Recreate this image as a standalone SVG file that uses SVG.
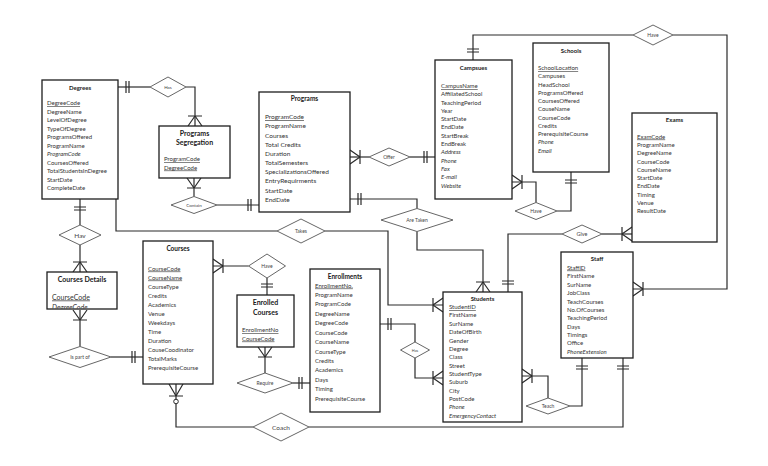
<svg xmlns="http://www.w3.org/2000/svg" width="768" height="466" viewBox="0 0 768 466">
<style>
.box{fill:#fff;stroke:#1e1e1e;stroke-width:1.3}
.dia{fill:#fff;stroke:#555;stroke-width:0.9}
.ln{fill:none;stroke:#2a2a2a;stroke-width:1.2}
.mk{fill:none;stroke:#2a2a2a;stroke-width:1.2}
text{font-family:Lato,"Liberation Sans",Arial,sans-serif;fill:#333}
.t{font-weight:bold;text-anchor:middle;fill:#1a1a1a}
.a{font-size:6px}
.pk{text-decoration:underline}
.i{font-style:italic}
.dl{text-anchor:middle;fill:#444}
</style>
<defs>
<marker id="many" markerUnits="userSpaceOnUse" markerWidth="30" markerHeight="30" viewBox="-20 -15 30 30" refX="0" refY="0" orient="auto" overflow="visible">
<path class="mk" d="M-10,0 L0,-7 M-10,0 L0,7 M-10,-7 L-10,7"/>
</marker>
<marker id="one" markerUnits="userSpaceOnUse" markerWidth="30" markerHeight="30" viewBox="-20 -15 30 30" refX="0" refY="0" orient="auto" overflow="visible">
<path class="mk" d="M-8,-6 L-8,6 M-11,-6 L-11,6"/>
</marker>
<marker id="zmany" markerUnits="userSpaceOnUse" markerWidth="30" markerHeight="30" viewBox="-25 -15 30 30" refX="0" refY="0" orient="auto" overflow="visible">
<path class="mk" d="M-12,0 L0,-7 M-12,0 L0,7 M-12,-7 L-12,7"/>
<circle cx="-17.5" cy="0" r="2.3" fill="#fff" stroke="#2a2a2a" stroke-width="1"/>
</marker>
<clipPath id="cdclip"><rect x="40" y="268" width="85" height="40.5"/></clipPath>
</defs>

<g id="connectors">
<path class="ln" d="M150,87 L118,87" marker-end="url(#one)"/>
<path class="ln" d="M186,87 L195,87 L195,126" marker-end="url(#many)"/>
<path class="ln" d="M194,196.5 L194,178" marker-end="url(#many)"/>
<path class="ln" d="M217,205 L259,205" marker-end="url(#one)"/>
<path class="ln" d="M369,157 L350,157" marker-end="url(#many)"/>
<path class="ln" d="M410,157 L435,157" marker-end="url(#one)"/>
<path class="ln" d="M417,208.5 L417,199 L350,199" marker-end="url(#one)"/>
<path class="ln" d="M417,231.5 L417,250 L483,250 L483,292" marker-end="url(#many)"/>
<path class="ln" d="M277,231 L116,231 L116,199"/>
<path class="ln" d="M325,231 L388,231 L388,305 L443,305" marker-end="url(#many)"/>
<path class="ln" d="M80,225 L80,199" marker-end="url(#one)"/>
<path class="ln" d="M80,245 L80,272" marker-end="url(#many)"/>
<path class="ln" d="M80,346.5 L80,310" marker-end="url(#many)"/>
<path class="ln" d="M111,357 L143,357" marker-end="url(#one)"/>
<path class="ln" d="M248.5,266 L213,266" marker-end="url(#many)"/>
<path class="ln" d="M267,278 L267,295" marker-end="url(#one)"/>
<path class="ln" d="M265,373 L265,347" marker-end="url(#many)"/>
<path class="ln" d="M293,383 L310,383" marker-end="url(#one)"/>
<path class="ln" d="M415,342 L415,324 L380,324" marker-end="url(#one)"/>
<path class="ln" d="M415,358 L415,378 L443,378" marker-end="url(#many)"/>
<path class="ln" d="M548,398 L548,376 L522,376" marker-end="url(#many)"/>
<path class="ln" d="M570,406 L582,406 L582,358" marker-end="url(#one)"/>
<path class="ln" d="M253,427 L176,427 L176,384" marker-end="url(#zmany)"/>
<path class="ln" d="M309,427 L623,427 L623,358" marker-end="url(#one)"/>
<path class="ln" d="M562,234 L508,234 L508,292" marker-end="url(#one)"/>
<path class="ln" d="M602,234 L632,234" marker-end="url(#many)"/>
<path class="ln" d="M536,202.5 L536,182 L512,182" marker-end="url(#many)"/>
<path class="ln" d="M557,211 L571,211 L571,172" marker-end="url(#one)"/>
<path class="ln" d="M633,35 L473,35 L473,60" marker-end="url(#one)"/>
<path class="ln" d="M673,35 L727,35 L727,289 L633,289" marker-end="url(#many)"/>
</g>

<g id="rel-has1"><polygon class="dia" points="150,87 168,77 186,87 168,97"/><text class="dl" x="168" y="89" font-size="4.5">Has</text></g>
<g id="rel-contain"><polygon class="dia" points="171,205 194,196.5 217,205 194,213.5"/><text class="dl" x="194" y="207" font-size="4.5">Contain</text></g>
<g id="rel-offer"><polygon class="dia" points="369,157 389,148 410,157 389,166"/><text class="dl" x="389" y="159" font-size="5">Offer</text></g>
<g id="rel-aretaken"><polygon class="dia" points="381,220 417,208.5 453,220 417,231.5"/><text class="dl" x="417" y="222" font-size="5">Are Taken</text></g>
<g id="rel-takes"><polygon class="dia" points="277,231 301,219 325,231 301,243"/><text class="dl" x="301" y="233" font-size="5">Takes</text></g>
<g id="rel-hav"><polygon class="dia" points="59,235 80,225 101,235 80,245"/><text class="dl" x="80" y="237.5" font-size="6.5">Hav</text></g>
<g id="rel-ispartof"><polygon class="dia" points="49,357 80,346.5 111,357 80,367.5"/><text class="dl" x="80" y="359" font-size="5">Is part of</text></g>
<g id="rel-have1"><polygon class="dia" points="248.5,266 267,254 285.5,266 267,278"/><text class="dl" x="267" y="268" font-size="5">Have</text></g>
<g id="rel-require"><polygon class="dia" points="237,383 265,373 293,383 265,393"/><text class="dl" x="265" y="385" font-size="5">Require</text></g>
<g id="rel-has2"><polygon class="dia" points="400.5,350 415,342 429.5,350 415,358"/><text class="dl" x="415" y="351.5" font-size="3.8">Has</text></g>
<g id="rel-teach"><polygon class="dia" points="526,406 548,398 570,406 548,414"/><text class="dl" x="548" y="408" font-size="5">Teach</text></g>
<g id="rel-coach"><polygon class="dia" points="253,427 281,413 309,427 281,441"/><text class="dl" x="281" y="429.5" font-size="6.5">Coach</text></g>
<g id="rel-give"><polygon class="dia" points="562,234 582,225 602,234 582,243"/><text class="dl" x="582" y="236" font-size="5.5">Give</text></g>
<g id="rel-have2"><polygon class="dia" points="515,211 536,202.5 557,211 536,219.5"/><text class="dl" x="536" y="213" font-size="5">Have</text></g>
<g id="rel-have3"><polygon class="dia" points="633,35 653,25 673,35 653,45"/><text class="dl" x="653" y="37" font-size="5">Have</text></g>

<g id="degrees">
<rect class="box" x="42" y="80" width="76" height="119"/>
<text class="t" x="80" y="90" font-size="6">Degrees</text>
<g class="a">
<text class="pk" x="47" y="105">DegreeCode</text>
<text x="47" y="113.5">DegreeName</text>
<text x="47" y="122">LevelOfDegree</text>
<text x="47" y="130.5">TypeOfDegree</text>
<text x="47" y="139">ProgramsOffered</text>
<text x="47" y="147.5">ProgramName</text>
<text class="i" x="47" y="156">ProgramCode</text>
<text x="47" y="164.5">CoursesOffered</text>
<text x="47" y="173">TotalStudentsInDegree</text>
<text x="47" y="181.5">StartDate</text>
<text x="47" y="190">CompleteDate</text>
</g>
</g>

<g id="programs-segregation">
<rect class="box" x="159" y="126" width="71" height="52"/>
<text class="t" x="194.5" y="135.5" font-size="7">Programs</text>
<text class="t" x="194.5" y="144.5" font-size="7">Segregation</text>
<g class="a">
<text class="pk" x="164" y="161">ProgramCode</text>
<text class="pk" x="164" y="169.5">DegreeCode</text>
</g>
</g>

<g id="programs">
<rect class="box" x="259" y="92" width="91" height="120"/>
<text class="t" x="304.5" y="101" font-size="6.5">Programs</text>
<g font-size="6.5">
<text class="pk" x="265" y="119">ProgramCode</text>
<text x="265" y="128">ProgramName</text>
<text x="265" y="137.5">Courses</text>
<text x="265" y="146.5">Total Credits</text>
<text x="265" y="155.5">Duration</text>
<text x="265" y="164.5">TotalSemesters</text>
<text x="265" y="174">SpecializationsOffered</text>
<text x="265" y="183">EntryRequirments</text>
<text x="265" y="192.5">StartDate</text>
<text x="265" y="201.5">EndDate</text>
</g>
</g>

<g id="campuses">
<rect class="box" x="435" y="60" width="77" height="139"/>
<text class="t" x="473.5" y="70" font-size="6">Campsues</text>
<g class="a">
<text class="pk" x="441" y="88">CampusName</text>
<text x="441" y="96">AffiliatedSchool</text>
<text x="441" y="104.5">TeachingPeriod</text>
<text x="441" y="112.5">Year</text>
<text x="441" y="121">StartDate</text>
<text x="441" y="129">EndDate</text>
<text x="441" y="137.5">StartBreak</text>
<text x="441" y="146">EndBreak</text>
<text class="i" x="441" y="154">Address</text>
<text class="i" x="441" y="162.5">Phone</text>
<text class="i" x="441" y="170.5">Fax</text>
<text class="i" x="441" y="179">E-mail</text>
<text class="i" x="441" y="187.5">Website</text>
</g>
</g>

<g id="schools">
<rect class="box" x="533" y="43" width="76" height="129"/>
<text class="t" x="571" y="52.5" font-size="6">Schools</text>
<g class="a">
<text class="pk" x="538" y="70">SchoolLocation</text>
<text x="538" y="78">Campuses</text>
<text x="538" y="86.5">HeadSchool</text>
<text x="538" y="94.5">ProgramsOffered</text>
<text x="538" y="103">CoursesOffered</text>
<text x="538" y="111">CouseName</text>
<text x="538" y="119.5">CourseCode</text>
<text x="538" y="127.5">Credits</text>
<text x="538" y="136">PrerequisiteCourse</text>
<text class="i" x="538" y="144">Phone</text>
<text class="i" x="538" y="152.5">Email</text>
</g>
</g>

<g id="exams">
<rect class="box" x="632" y="113" width="85" height="129"/>
<text class="t" x="674.5" y="122" font-size="6">Exams</text>
<g class="a">
<text class="pk" x="637" y="138.5">ExamCode</text>
<text x="637" y="147">ProgramName</text>
<text x="637" y="155">DegreeName</text>
<text x="637" y="163.5">CourseCode</text>
<text x="637" y="171.5">CourseName</text>
<text x="637" y="180">StartDate</text>
<text x="637" y="188">EndDate</text>
<text x="637" y="196.5">Timing</text>
<text x="637" y="204.5">Venue</text>
<text x="637" y="213">ResultDate</text>
</g>
</g>

<g id="staff">
<rect class="box" x="561" y="252" width="72" height="106"/>
<text class="t" x="597" y="261" font-size="6">Staff</text>
<g class="a">
<text class="pk" x="567" y="269.5">StaffID</text>
<text x="567" y="278">FirstName</text>
<text x="567" y="287">SurName</text>
<text x="567" y="295">JobClass</text>
<text x="567" y="303.5">TeachCourses</text>
<text x="567" y="311.5">No.OfCourses</text>
<text x="567" y="320">TeachingPeriod</text>
<text x="567" y="328.5">Days</text>
<text x="567" y="336.5">Timings</text>
<text x="567" y="345">Office</text>
<text class="i" x="567" y="353.5">PhoneExtension</text>
</g>
</g>

<g id="students">
<rect class="box" x="443" y="292" width="79" height="130"/>
<text class="t" x="482.5" y="300.5" font-size="6">Students</text>
<g class="a">
<text class="pk" x="449" y="309">StudentID</text>
<text x="449" y="317">FirstName</text>
<text x="449" y="326">SurName</text>
<text x="449" y="334">DateOfBirth</text>
<text x="449" y="342.5">Gender</text>
<text x="449" y="350.5">Degree</text>
<text x="449" y="359">Class</text>
<text x="449" y="367.5">Street</text>
<text x="449" y="375.5">StudentType</text>
<text x="449" y="384">Suburb</text>
<text x="449" y="392.5">City</text>
<text x="449" y="400.5">PostCode</text>
<text class="i" x="449" y="409">Phone</text>
<text class="i" x="449" y="417.5">EmergencyContact</text>
</g>
</g>

<g id="enrollments">
<rect class="box" x="310" y="269" width="70" height="143"/>
<text class="t" x="345" y="278.5" font-size="6.5">Enrollments</text>
<g class="a">
<text class="pk" x="315" y="287.5">EnrollmentNo.</text>
<text x="315" y="297">ProgramName</text>
<text x="315" y="306">ProgramCode</text>
<text x="315" y="315.5">DegreeName</text>
<text x="315" y="325">DegreeCode</text>
<text x="315" y="334.5">CourseCode</text>
<text x="315" y="344">CourseName</text>
<text x="315" y="353.5">CourseType</text>
<text x="315" y="363">Credits</text>
<text x="315" y="372">Academics</text>
<text x="315" y="381.5">Days</text>
<text x="315" y="391">Timing</text>
<text x="315" y="400.5">PrerequisiteCourse</text>
</g>
</g>

<g id="courses">
<rect class="box" x="143" y="241" width="70" height="143"/>
<text class="t" x="178" y="251" font-size="6.5">Courses</text>
<g class="a">
<text class="pk" x="148" y="270.5">CourseCode</text>
<text class="pk" x="148" y="279.5">CourseName</text>
<text x="148" y="288.5">CourseType</text>
<text x="148" y="297.5">Credits</text>
<text x="148" y="306.5">Academics</text>
<text x="148" y="315.5">Venue</text>
<text x="148" y="324.5">Weekdays</text>
<text x="148" y="333.5">Time</text>
<text x="148" y="343">Duration</text>
<text x="148" y="352">CouseCoodinator</text>
<text x="148" y="361">TotalMarks</text>
<text x="148" y="370">PrerequisiteCourse</text>
</g>
</g>

<g id="enrolled-courses">
<rect class="box" x="237" y="295" width="57" height="52"/>
<text class="t" x="265.5" y="305" font-size="7">Enrolled</text>
<text class="t" x="265.5" y="314.5" font-size="7">Courses</text>
<g class="a">
<text class="pk" x="242" y="332">EnrollmentNo</text>
<text class="pk" x="242" y="340.5">CourseCode</text>
</g>
</g>

<g id="courses-details">
<rect class="box" x="47" y="272" width="70" height="37"/>
<text class="t" x="82" y="281.5" font-size="7">Courses Details</text>
<g clip-path="url(#cdclip)" font-size="7">
<text class="pk" x="52" y="299.5">CourseCode</text>
<text class="i" x="52" y="310">DegreeCode</text>
</g>
</g>
</svg>
